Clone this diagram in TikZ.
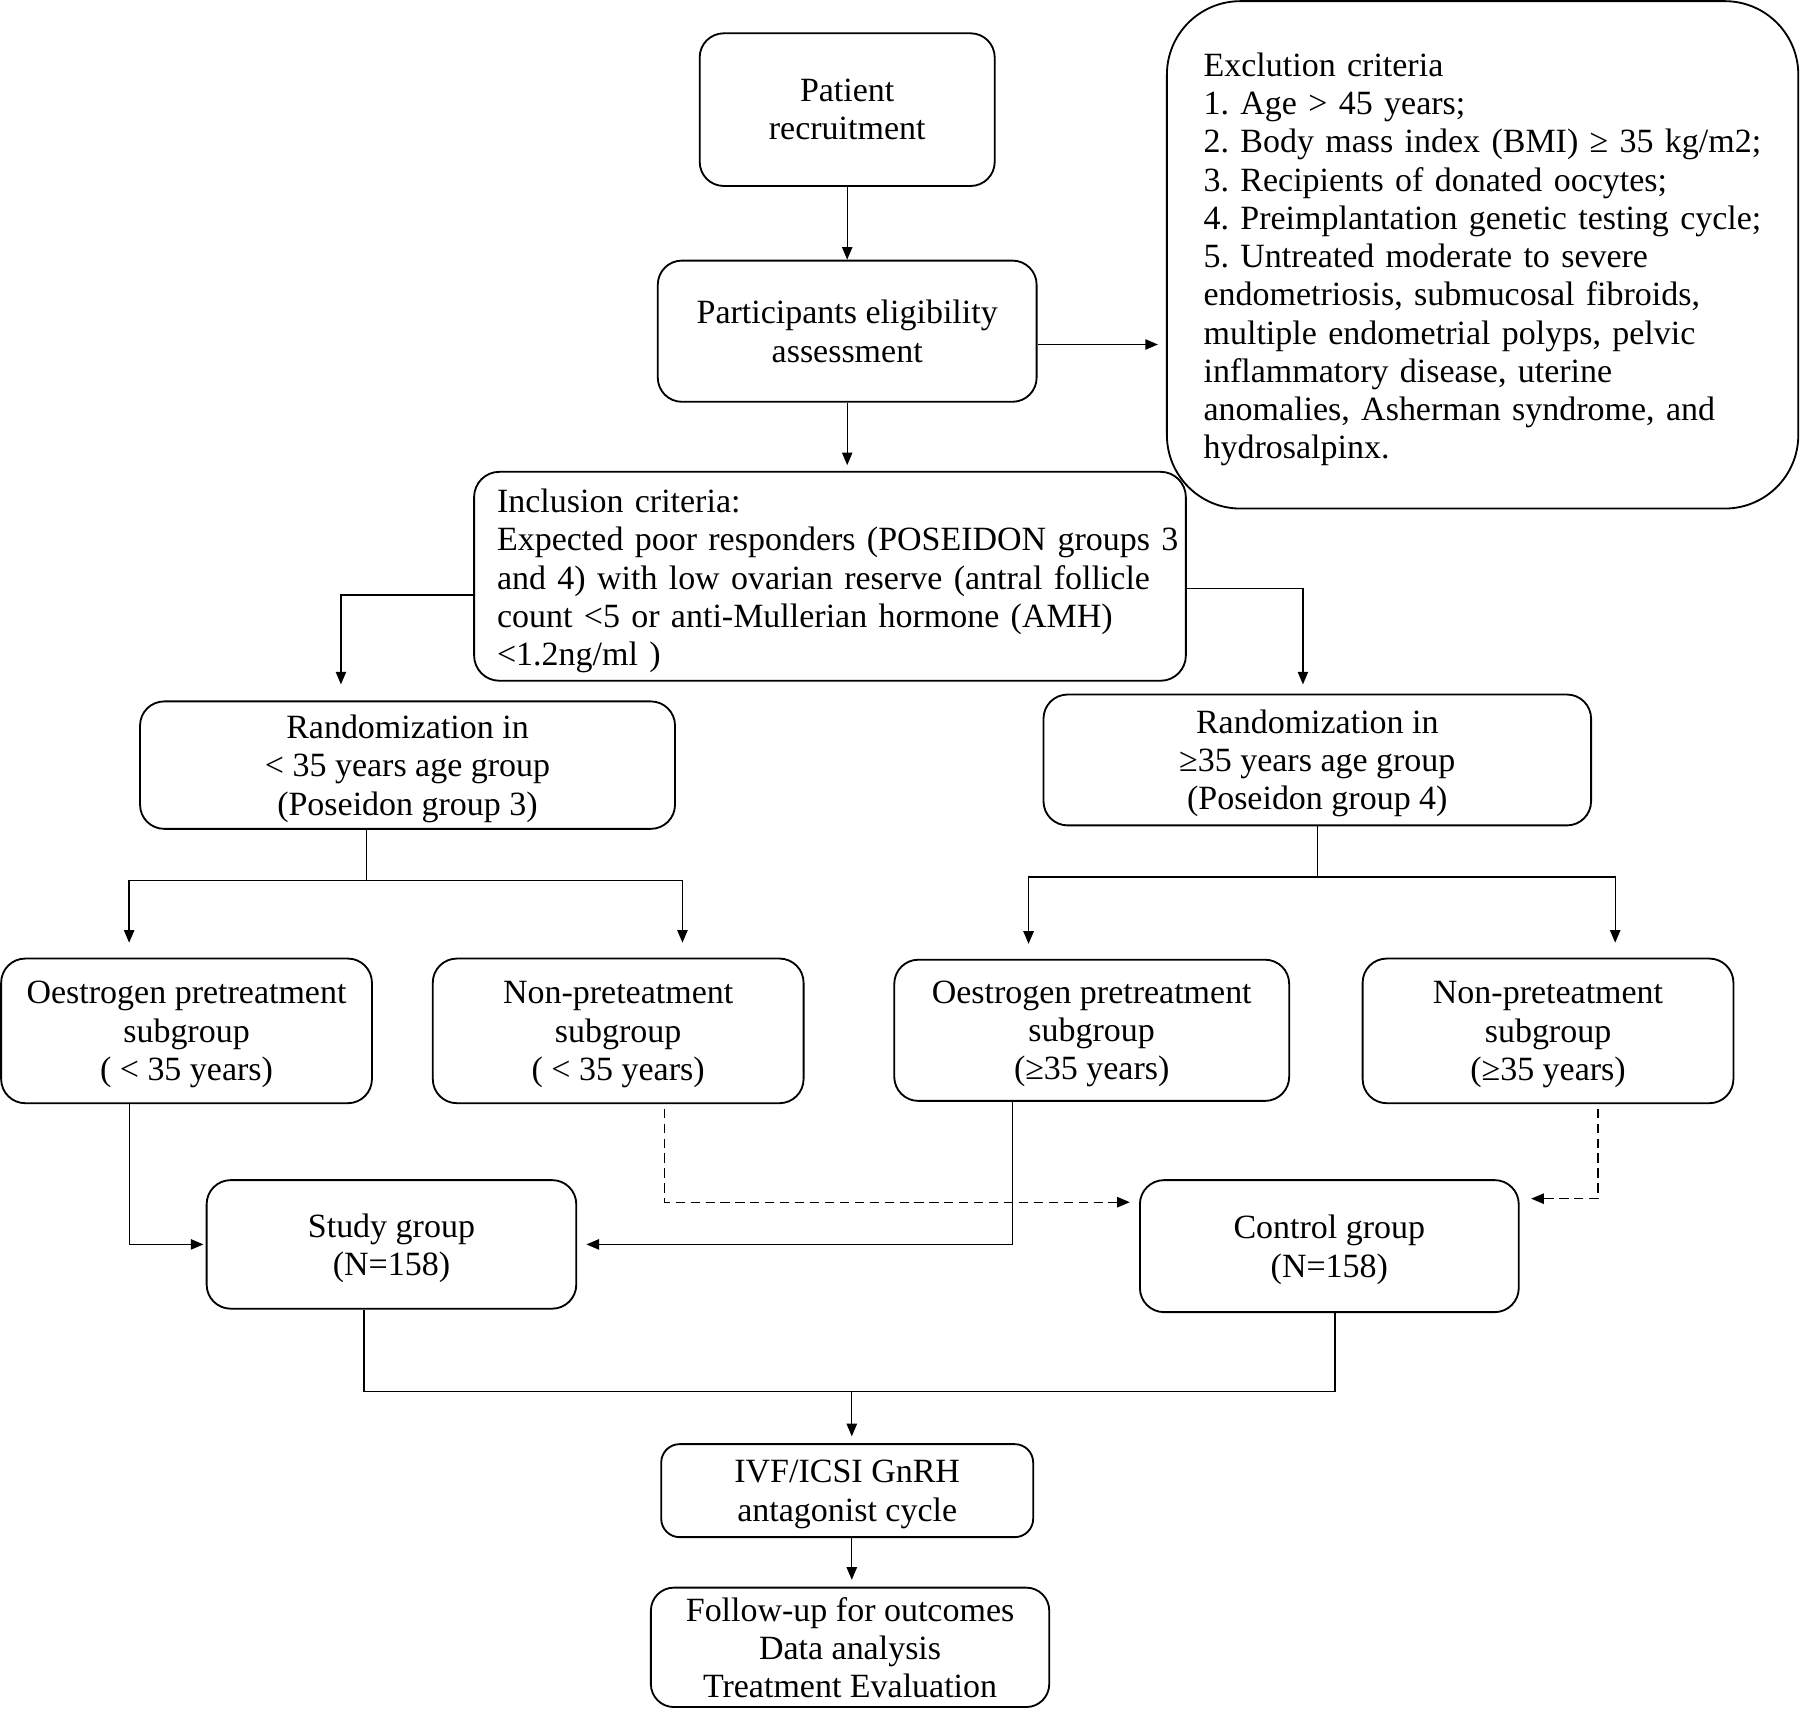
\documentclass[tikz,border=0pt]{standalone}
\usepackage{fontspec}
\setmainfont{Liberation Serif}
\usetikzlibrary{arrows.meta}
\begin{document}
\begin{tikzpicture}[x=0.5pt,y=-0.5pt,
  bbase/.style={draw, line width=0.8pt, rounded corners=10.5pt, inner sep=2pt,
    font=\fontsize{14.8}{16.65}\selectfont\frenchspacing},
  box/.style={bbase, align=center, text depth=-2pt},
  lbox/.style={bbase, align=left, execute at begin node={\rule{0pt}{14.3pt}}},
  conn/.style={line width=0.6pt},
  arr/.style={conn, -{Triangle[length=5.5pt,width=4.5pt]}},
  dsh/.style={arr, dash pattern=on 4pt off 2.5pt}]
\useasboundingbox (0,0) rectangle (1568,1489);

\node[box, minimum width=128.5pt, minimum height=66.5pt] (pat) at (738,95.5) {Patient\\recruitment};
\node[box, minimum width=165pt, minimum height=61.5pt] (elig) at (738,288.5) {Participants eligibility\\assessment};
\node[lbox, rounded corners=32pt, minimum width=274pt, minimum height=221pt, text width=243pt,
  inner xsep=16pt] (excl) at (1291.5,222)
  {\mbox{Exclution criteria}\\\mbox{1. Age > 45 years;}\\\mbox{2. Body mass index (BMI) ≥ 35 kg/m2;}\\\mbox{3. Recipients of donated oocytes;}\\\mbox{4. Preimplantation genetic testing cycle;}\\\mbox{5. Untreated moderate to severe}\\\mbox{endometriosis, submucosal fibroids,}\\\mbox{multiple endometrial polyps, pelvic}\\\mbox{inflammatory disease, uterine}\\\mbox{anomalies, Asherman syndrome, and}\\\mbox{hydrosalpinx.}};
\node[lbox, rounded corners=11pt, minimum width=310pt, minimum height=91pt, text width=290pt,
  inner xsep=10pt] (incl) at (723,502)
  {\mbox{Inclusion criteria:}\\\mbox{Expected poor responders (POSEIDON groups 3}\\\mbox{and 4) with low ovarian reserve (antral follicle}\\\mbox{count <5 or anti-Mullerian hormone (AMH)}\\\mbox{<1.2ng/ml )}};
\node[box, minimum width=233pt, minimum height=55.5pt] (randL) at (355,666.5) {Randomization in\\< 35 years age group\\(Poseidon group 3)};
\node[box, minimum width=238.5pt, minimum height=57pt] (randR) at (1147.5,662) {Randomization in\\≥35 years age group\\(Poseidon group 4)};
\node[box, minimum width=161.5pt, minimum height=63pt] (oesL) at (162.5,898) {Oestrogen pretreatment\\subgroup\\( < 35 years)};
\node[box, minimum width=161.5pt, minimum height=63pt] (nonL) at (538.5,898) {Non-preteatment\\subgroup\\( < 35 years)};
\node[box, minimum width=172pt, minimum height=61.5pt] (oesR) at (951,897.5) {Oestrogen pretreatment\\subgroup\\(≥35 years)};
\node[box, minimum width=161.5pt, minimum height=63pt] (nonR) at (1348.5,898) {Non-preteatment\\subgroup\\(≥35 years)};
\node[box, minimum width=161pt, minimum height=56pt] (study) at (341,1084) {Study group\\(N=158)};
\node[box, minimum width=165pt, minimum height=57.5pt] (ctrl) at (1158,1085.5) {Control group\\(N=158)};
\node[box, rounded corners=8pt, minimum width=162pt, minimum height=40.5pt] (ivf) at (738,1298.5) {IVF/ICSI GnRH\\antagonist cycle};
\node[box, rounded corners=10pt, minimum width=173.5pt, minimum height=52pt] (fol) at (740.5,1435) {Follow-up for outcomes\\Data analysis\\Treatment Evaluation};

\coordinate (mrg) at (742,1212);

\draw[arr] (pat.south) -- (elig.north);
\draw[arr, shorten >=2.5pt] (elig.south) -- (elig.south |- incl.north);
\draw[arr, shorten >=3.5pt] (elig.-4.7) -- (excl.west |- elig.-4.7);
\draw[arr, shorten >=7pt] (incl.183.3) -| ([xshift=-29pt]randL.north);
\draw[arr, shorten >=4pt] (incl.-2.4) -| ([xshift=-6.25pt]randR.north);

\draw[conn] ([xshift=-18pt]randL.south) -- ++(0,44) coordinate (sL);
\draw[arr, shorten >=6.5pt] (sL) -| ([xshift=-25pt]oesL.north);
\draw[arr, shorten >=6.5pt] (sL) -| ([xshift=28pt]nonL.north);
\draw[conn] (randR.south) -- ++(0,44) coordinate (sR);
\draw[arr, shorten >=6.5pt] (sR) -| ([xshift=-27.5pt]oesR.north);
\draw[arr, shorten >=6.5pt] (sR) -| ([xshift=29.25pt]nonR.north);

\draw[arr, shorten >=1pt] ([xshift=-24.75pt]oesL.south) |- (study.west);
\draw[arr, shorten >=4pt] ([xshift=-34.5pt]oesR.south) |- (study.east);
\draw[dsh, shorten <=2pt, shorten >=4pt] ([xshift=20.25pt]nonL.south) |- (ctrl.167.2);
\draw[dsh, shorten <=2pt, shorten >=5pt] ([xshift=21.75pt]nonR.south) |- (ctrl.14.1);

\draw[conn] ([xshift=-12pt]study.south) |- (mrg) -| ([xshift=2.5pt]ctrl.south);
\draw[arr, shorten >=3pt] (mrg) -- (mrg |- ivf.north);
\draw[arr, shorten >=3pt] (mrg |- ivf.south) -- (mrg |- fol.north);
\end{tikzpicture}
\end{document}
